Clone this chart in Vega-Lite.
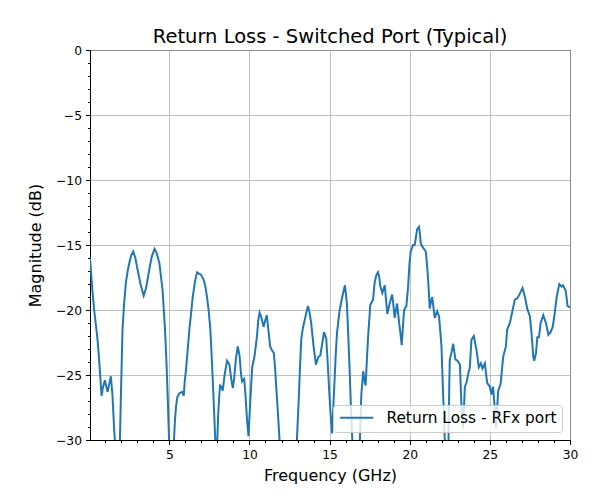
{
  "$schema": "https://vega.github.io/schema/vega-lite/v6.json",
  "width": 480,
  "height": 390,
  "autosize": {"type": "none"},
  "padding": {"left": 90, "top": 50, "right": 30, "bottom": 60},
  "title": {"text": "Return Loss - Switched Port (Typical)", "fontSize": 19.5, "font": "DejaVu Sans", "fontWeight": "normal", "offset": -3, "color": "black"},
  "config": {
    "font": "DejaVu Sans",
    "view": {"stroke": "black", "strokeWidth": 1},
    "axis": {"domainColor": "black", "tickColor": "black", "labelColor": "black", "titleColor": "black", "labelFontSize": 12.3, "titleFontSize": 16, "titleFontWeight": "normal", "gridColor": "#b0b0b0", "gridWidth": 0.8, "tickSize": 4.5, "labelPadding": 4, "labelFlush": false, "labelOverlap": false, "labelFont": "DejaVu Sans", "titleFont": "DejaVu Sans"},
    "legend": {"fillColor": "rgba(255,255,255,0.8)", "strokeColor": "#cccccc", "cornerRadius": 3, "padding": 5, "labelFontSize": 15.4, "labelLimit": 400, "labelFont": "DejaVu Sans", "labelColor": "black", "symbolType": "M-3,0h6", "symbolSize": 121, "symbolStrokeWidth": 2, "symbolOffset": 11, "labelOffset": 22, "offset": 8}
  },
  "data": {"values": [
    {"freq": 0.05, "mag": -16.0}, {"freq": 0.2, "mag": -18.5}, {"freq": 0.31, "mag": -20}, {"freq": 0.45, "mag": -21.5},
    {"freq": 0.52, "mag": -22.3}, {"freq": 0.6, "mag": -23.5}, {"freq": 0.69, "mag": -25.1}, {"freq": 0.77, "mag": -26.6},
    {"freq": 0.85, "mag": -26.0}, {"freq": 0.98, "mag": -25.4}, {"freq": 1.07, "mag": -25.9}, {"freq": 1.15, "mag": -26.3},
    {"freq": 1.25, "mag": -25.7}, {"freq": 1.35, "mag": -25.1}, {"freq": 1.45, "mag": -26.5}, {"freq": 1.55, "mag": -29},
    {"freq": 1.65, "mag": -31}, {"freq": 1.78, "mag": -34}, {"freq": 1.9, "mag": -31}, {"freq": 1.97, "mag": -27},
    {"freq": 2.08, "mag": -21.5}, {"freq": 2.18, "mag": -19.5}, {"freq": 2.29, "mag": -17.9}, {"freq": 2.4, "mag": -17.0},
    {"freq": 2.5, "mag": -16.4}, {"freq": 2.62, "mag": -15.8}, {"freq": 2.75, "mag": -15.5}, {"freq": 2.88, "mag": -16.0},
    {"freq": 3.02, "mag": -16.9}, {"freq": 3.2, "mag": -18.0}, {"freq": 3.4, "mag": -18.9}, {"freq": 3.55, "mag": -18.3},
    {"freq": 3.75, "mag": -16.9}, {"freq": 3.9, "mag": -15.9}, {"freq": 4.08, "mag": -15.3}, {"freq": 4.2, "mag": -15.6},
    {"freq": 4.38, "mag": -16.4}, {"freq": 4.58, "mag": -18.5}, {"freq": 4.73, "mag": -21.5}, {"freq": 4.82, "mag": -24},
    {"freq": 4.9, "mag": -26.7}, {"freq": 4.97, "mag": -29.5}, {"freq": 5.1, "mag": -33}, {"freq": 5.25, "mag": -31},
    {"freq": 5.35, "mag": -28.5}, {"freq": 5.42, "mag": -27.4}, {"freq": 5.5, "mag": -26.7}, {"freq": 5.63, "mag": -26.4},
    {"freq": 5.79, "mag": -26.3}, {"freq": 5.9, "mag": -26.6}, {"freq": 5.96, "mag": -25.5}, {"freq": 6.04, "mag": -24.6},
    {"freq": 6.15, "mag": -23}, {"freq": 6.25, "mag": -21.5}, {"freq": 6.36, "mag": -20.2}, {"freq": 6.46, "mag": -19.0},
    {"freq": 6.6, "mag": -17.8}, {"freq": 6.73, "mag": -17.1}, {"freq": 6.85, "mag": -17.2}, {"freq": 6.98, "mag": -17.3},
    {"freq": 7.15, "mag": -17.7}, {"freq": 7.25, "mag": -18.2}, {"freq": 7.35, "mag": -19.0}, {"freq": 7.45, "mag": -20},
    {"freq": 7.56, "mag": -21.5}, {"freq": 7.64, "mag": -23.5}, {"freq": 7.71, "mag": -25.4}, {"freq": 7.8, "mag": -28},
    {"freq": 7.9, "mag": -31}, {"freq": 7.98, "mag": -30.5}, {"freq": 8.05, "mag": -28}, {"freq": 8.12, "mag": -26.5},
    {"freq": 8.17, "mag": -25.8}, {"freq": 8.25, "mag": -25.9}, {"freq": 8.33, "mag": -26.2}, {"freq": 8.45, "mag": -25},
    {"freq": 8.6, "mag": -23.9}, {"freq": 8.75, "mag": -24.2}, {"freq": 8.85, "mag": -25.2}, {"freq": 8.96, "mag": -26.0},
    {"freq": 9.05, "mag": -25.2}, {"freq": 9.15, "mag": -23.8}, {"freq": 9.27, "mag": -22.8}, {"freq": 9.38, "mag": -23.5},
    {"freq": 9.48, "mag": -25.0}, {"freq": 9.54, "mag": -25.5}, {"freq": 9.6, "mag": -25.4}, {"freq": 9.67, "mag": -25.3},
    {"freq": 9.75, "mag": -26.5}, {"freq": 9.85, "mag": -28.5}, {"freq": 9.94, "mag": -29.7}, {"freq": 10.05, "mag": -27},
    {"freq": 10.17, "mag": -24.4}, {"freq": 10.31, "mag": -23.6}, {"freq": 10.46, "mag": -22.1}, {"freq": 10.55, "mag": -20.8},
    {"freq": 10.63, "mag": -20.2}, {"freq": 10.75, "mag": -20.6}, {"freq": 10.88, "mag": -21.3}, {"freq": 10.98, "mag": -20.8},
    {"freq": 11.08, "mag": -20.4}, {"freq": 11.18, "mag": -21.5}, {"freq": 11.29, "mag": -22.8}, {"freq": 11.4, "mag": -23.1},
    {"freq": 11.52, "mag": -23.3}, {"freq": 11.6, "mag": -24.5}, {"freq": 11.67, "mag": -25.9}, {"freq": 11.78, "mag": -28},
    {"freq": 11.88, "mag": -30.1}, {"freq": 12.0, "mag": -33}, {"freq": 12.5, "mag": -36}, {"freq": 12.9, "mag": -32},
    {"freq": 12.96, "mag": -30}, {"freq": 13.08, "mag": -26.7}, {"freq": 13.15, "mag": -24.5}, {"freq": 13.23, "mag": -22.3},
    {"freq": 13.33, "mag": -21.4}, {"freq": 13.44, "mag": -20.8}, {"freq": 13.55, "mag": -20.2}, {"freq": 13.65, "mag": -19.7},
    {"freq": 13.75, "mag": -20.2}, {"freq": 13.85, "mag": -21.0}, {"freq": 14.0, "mag": -22.8}, {"freq": 14.15, "mag": -24.2},
    {"freq": 14.3, "mag": -23.6}, {"freq": 14.42, "mag": -23.5}, {"freq": 14.55, "mag": -22.5}, {"freq": 14.65, "mag": -21.7},
    {"freq": 14.79, "mag": -22.2}, {"freq": 14.88, "mag": -24}, {"freq": 14.96, "mag": -25.9}, {"freq": 15.05, "mag": -27.8},
    {"freq": 15.15, "mag": -29.5}, {"freq": 15.23, "mag": -27.5}, {"freq": 15.31, "mag": -25.4}, {"freq": 15.38, "mag": -23.5},
    {"freq": 15.46, "mag": -21.8}, {"freq": 15.55, "mag": -20.8}, {"freq": 15.63, "mag": -20.0}, {"freq": 15.79, "mag": -19.0},
    {"freq": 15.88, "mag": -18.5}, {"freq": 15.96, "mag": -18.1}, {"freq": 16.08, "mag": -19.5}, {"freq": 16.15, "mag": -21.5},
    {"freq": 16.25, "mag": -24.6}, {"freq": 16.33, "mag": -27.5}, {"freq": 16.42, "mag": -30.1}, {"freq": 16.6, "mag": -33},
    {"freq": 16.88, "mag": -30.5}, {"freq": 16.98, "mag": -26.5}, {"freq": 17.1, "mag": -24.7}, {"freq": 17.2, "mag": -25.6},
    {"freq": 17.25, "mag": -25.8}, {"freq": 17.32, "mag": -24}, {"freq": 17.4, "mag": -22.1}, {"freq": 17.54, "mag": -19.6},
    {"freq": 17.71, "mag": -19.2}, {"freq": 17.81, "mag": -17.9}, {"freq": 17.92, "mag": -17.3}, {"freq": 18.02, "mag": -17.1},
    {"freq": 18.1, "mag": -17.5}, {"freq": 18.17, "mag": -18.2}, {"freq": 18.29, "mag": -18.7}, {"freq": 18.44, "mag": -18.1},
    {"freq": 18.52, "mag": -19.2}, {"freq": 18.6, "mag": -20.3}, {"freq": 18.75, "mag": -19.5}, {"freq": 18.9, "mag": -18.8},
    {"freq": 18.98, "mag": -19.6}, {"freq": 19.06, "mag": -20.6}, {"freq": 19.21, "mag": -19.5}, {"freq": 19.33, "mag": -20.9},
    {"freq": 19.42, "mag": -21.8}, {"freq": 19.5, "mag": -22.7}, {"freq": 19.58, "mag": -21.2}, {"freq": 19.65, "mag": -20.0},
    {"freq": 19.79, "mag": -19.7}, {"freq": 19.9, "mag": -18.2}, {"freq": 19.98, "mag": -16.5}, {"freq": 20.06, "mag": -15.5},
    {"freq": 20.21, "mag": -15.0}, {"freq": 20.31, "mag": -15.0}, {"freq": 20.4, "mag": -14.3}, {"freq": 20.46, "mag": -13.8},
    {"freq": 20.58, "mag": -13.6}, {"freq": 20.64, "mag": -14.2}, {"freq": 20.69, "mag": -14.9}, {"freq": 20.83, "mag": -15.2},
    {"freq": 21.0, "mag": -15.5}, {"freq": 21.08, "mag": -16.5}, {"freq": 21.15, "mag": -17.7}, {"freq": 21.25, "mag": -19.9},
    {"freq": 21.32, "mag": -19.4}, {"freq": 21.4, "mag": -19.0}, {"freq": 21.48, "mag": -19.8}, {"freq": 21.56, "mag": -20.6},
    {"freq": 21.71, "mag": -20.1}, {"freq": 21.83, "mag": -20.5}, {"freq": 21.98, "mag": -22.8}, {"freq": 22.08, "mag": -26.4},
    {"freq": 22.19, "mag": -30.1}, {"freq": 22.3, "mag": -33}, {"freq": 22.42, "mag": -30}, {"freq": 22.47, "mag": -25.5},
    {"freq": 22.5, "mag": -23.8}, {"freq": 22.6, "mag": -23.3}, {"freq": 22.71, "mag": -22.6}, {"freq": 22.78, "mag": -23.2},
    {"freq": 22.85, "mag": -23.8}, {"freq": 22.98, "mag": -23.9}, {"freq": 23.13, "mag": -24.2}, {"freq": 23.23, "mag": -27.4},
    {"freq": 23.33, "mag": -29.1}, {"freq": 23.44, "mag": -25.9}, {"freq": 23.54, "mag": -25.6}, {"freq": 23.65, "mag": -24.9},
    {"freq": 23.75, "mag": -24.4}, {"freq": 23.85, "mag": -22.3}, {"freq": 24.0, "mag": -22.0}, {"freq": 24.17, "mag": -23.1},
    {"freq": 24.31, "mag": -24.4}, {"freq": 24.44, "mag": -24.1}, {"freq": 24.54, "mag": -24.5}, {"freq": 24.69, "mag": -24.1},
    {"freq": 24.83, "mag": -25.6}, {"freq": 25.0, "mag": -25.9}, {"freq": 25.1, "mag": -26.5}, {"freq": 25.2, "mag": -25.9},
    {"freq": 25.3, "mag": -27.5}, {"freq": 25.38, "mag": -29.1}, {"freq": 25.52, "mag": -26.2}, {"freq": 25.67, "mag": -25.7},
    {"freq": 25.83, "mag": -23.6}, {"freq": 26.0, "mag": -22.8}, {"freq": 26.08, "mag": -21.5}, {"freq": 26.25, "mag": -21.0},
    {"freq": 26.42, "mag": -20.0}, {"freq": 26.56, "mag": -19.2}, {"freq": 26.71, "mag": -19.1}, {"freq": 26.85, "mag": -18.8},
    {"freq": 27.04, "mag": -18.3}, {"freq": 27.19, "mag": -19.0}, {"freq": 27.33, "mag": -19.9}, {"freq": 27.5, "mag": -20.5},
    {"freq": 27.6, "mag": -21.8}, {"freq": 27.71, "mag": -23.6}, {"freq": 27.77, "mag": -23.9}, {"freq": 27.88, "mag": -23.3},
    {"freq": 27.96, "mag": -22.1}, {"freq": 28.06, "mag": -22.1}, {"freq": 28.17, "mag": -21.0}, {"freq": 28.33, "mag": -20.4},
    {"freq": 28.5, "mag": -21.0}, {"freq": 28.65, "mag": -21.9}, {"freq": 28.79, "mag": -21.7}, {"freq": 28.92, "mag": -21.3},
    {"freq": 29.02, "mag": -20.5}, {"freq": 29.17, "mag": -19.0}, {"freq": 29.33, "mag": -18.0}, {"freq": 29.48, "mag": -18.2},
    {"freq": 29.56, "mag": -18.1}, {"freq": 29.73, "mag": -18.5}, {"freq": 29.85, "mag": -19.7}, {"freq": 30.0, "mag": -19.8}
  ]},
  "layer": [
    {
      "mark": {"type": "line", "opacity": 0},
      "encoding": {
        "x": {"field": "freq", "type": "quantitative", "scale": {"domain": [0.05, 30], "nice": false, "zero": false},
              "axis": {"orient": "bottom", "values": [1,2,3,4,6,7,8,9,11,12,13,14,16,17,18,19,21,22,23,24,26,27,28,29], "labels": false, "tickSize": 2.5, "grid": false, "domain": false, "title": null}},
        "y": {"field": "mag", "type": "quantitative", "scale": {"domain": [-30, 0], "nice": false},
              "axis": {"orient": "left", "values": [-29,-28,-27,-26,-24,-23,-22,-21,-19,-18,-17,-16,-14,-13,-12,-11,-9,-8,-7,-6,-4,-3,-2,-1], "labels": false, "tickSize": 2.5, "grid": false, "domain": false, "title": null}}
      }
    },
    {
      "mark": {"type": "line", "clip": true, "strokeWidth": 2},
      "encoding": {
        "x": {"field": "freq", "type": "quantitative",
              "axis": {"orient": "bottom", "values": [5, 10, 15, 20, 25, 30], "title": "Frequency (GHz)", "grid": true, "titlePadding": 7}},
        "y": {"field": "mag", "type": "quantitative",
              "axis": {"orient": "left", "values": [-30, -25, -20, -15, -10, -5, 0], "title": "Magnitude (dB)", "grid": true, "labelExpr": "replace(datum.label, '-', '−')", "titlePadding": 12}},
        "color": {"datum": "Return Loss - RFx port", "type": "nominal", "scale": {"range": ["#1f77b4"]}, "legend": {"title": null, "orient": "bottom-right"}}
      }
    }
  ],
  "resolve": {"axis": {"x": "independent", "y": "independent"}}
}
